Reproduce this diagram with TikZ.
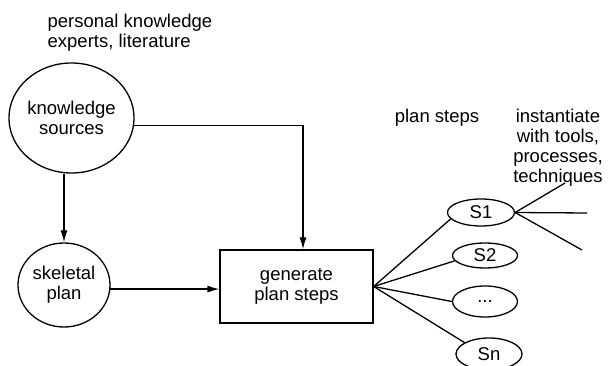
\documentclass[tikz,border=0pt]{standalone}
\usepackage{fontspec}
\setmainfont{Liberation Sans}
\usetikzlibrary{shapes.geometric,arrows.meta}
\begin{document}
\begin{tikzpicture}[x=1pt,y=-1pt,
  line width=1.3pt,
  every node/.style={font=\fontsize{18.5}{20}\selectfont, align=center, inner sep=0pt},
  bubble/.style={draw, ellipse},
  stepnode/.style={draw, ellipse, minimum width=65pt, minimum height=26pt},
  box/.style={draw, rectangle, minimum width=153pt, minimum height=73pt},
  arr/.style={-{Latex[length=12pt,width=7pt]}},
  lbl/.style={align=left}]
\useasboundingbox (0,0) rectangle (608,366);
\clip (0,0) rectangle (608,366);

% knowledge side
\node[lbl, anchor=west] (src) at (47,33) {personal knowledge\\experts, literature};
\node[bubble, minimum width=123pt, minimum height=110pt] (ks) at (71.5,118) {knowledge\\sources};
\node[bubble, minimum width=92pt, minimum height=84pt] (sp) at (64,285) {skeletal\\plan};
\node[box] (gen) at (296.5,286.5) {generate\\plan steps};

\draw[arr] (ks.south -| sp.north) -- (sp.north);
\draw[arr] (ks.-7) -| ([xshift=6.5pt]gen.north);
\draw[arr] (sp.-5) -- (sp.-5 -| gen.west);

% plan steps
\node[anchor=center] (ps) at (437,118) {plan steps};
\node (inst) at (558,148) {instantiate\\with tools,\\processes,\\techniques};

\node[stepnode, minimum width=67pt, minimum height=27pt] (s1) at (481,212.5) {S1};
\node[stepnode, minimum height=25pt] (s2) at (485,255.5) {S2};
\node[stepnode, minimum height=31pt] (s3) at (485,301.5) {...};
\node[stepnode, minimum width=66pt, minimum height=32pt] (sn) at (489,354) {Sn};

\coordinate (fan) at (gen.east);
\draw (fan) -- (s1.192);
\draw (fan) -- (s2.190);
\draw (fan) -- (s3.180);
\draw (fan) -- (sn.155);

% instantiation branches of S1
\coordinate (t1) at (565,183);
\coordinate (t2) at (587,213);
\coordinate (t3) at (582,250);
\draw (s1.east) -- (t1);
\draw (s1.east) -- (t2);
\draw (s1.east) -- (t3);
\end{tikzpicture}
\end{document}
